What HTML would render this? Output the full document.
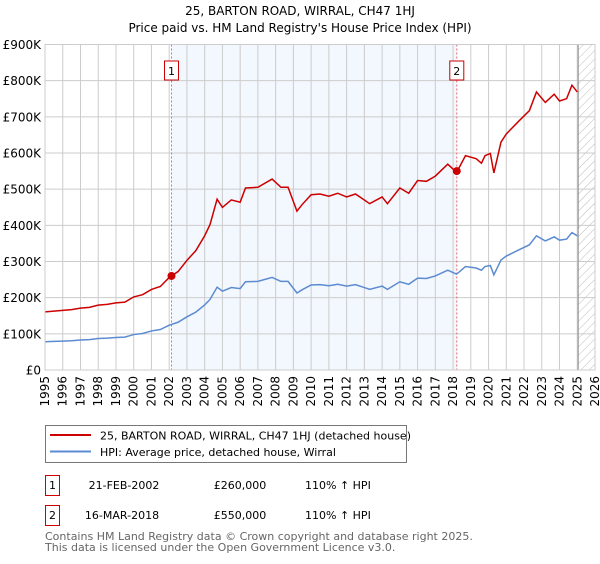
<!DOCTYPE html>
<html><head><meta charset="utf-8"><style>
body{margin:0;background:#fff;font-family:"DejaVu Sans","Liberation Sans",sans-serif;}
svg text{font-family:"DejaVu Sans","Liberation Sans",sans-serif;}
</style></head><body>
<svg id="chart" width="600" height="560" xmlns="http://www.w3.org/2000/svg">
<defs><pattern id="hatch" width="6" height="6" patternUnits="userSpaceOnUse" patternTransform="rotate(45)"><line x1="0" y1="0" x2="0" y2="6" stroke="#bbb" stroke-width="1"/></pattern></defs>
<text x="300" y="15" text-anchor="middle" font-size="12">25, BARTON ROAD, WIRRAL, CH47 1HJ</text>
<text x="300" y="32" text-anchor="middle" font-size="12">Price paid vs. HM Land Registry's House Price Index (HPI)</text>
<g id="plot"></g>
<rect x="45.5" y="425.5" width="361" height="37" fill="#fff" stroke="#777"/>
<line x1="50" y1="435" x2="91" y2="435" stroke="#cc0000" stroke-width="2"/>
<text x="100" y="439.5" font-size="11">25, BARTON ROAD, WIRRAL, CH47 1HJ (detached house)</text>
<line x1="50" y1="451.5" x2="91" y2="451.5" stroke="#5b8bd0" stroke-width="2"/>
<text x="100" y="456" font-size="11">HPI: Average price, detached house, Wirral</text>
<g font-size="11">
<rect x="45.5" y="475.5" width="14" height="20" fill="#fff" stroke="#cc0000"/>
<text x="52.5" y="489" text-anchor="middle">1</text>
<text x="124" y="489" text-anchor="middle">21-FEB-2002</text>
<text x="240" y="489" text-anchor="middle">£260,000</text>
<text x="305" y="489">110% ↑ HPI</text></g>
<g font-size="11">
<rect x="45.5" y="505.5" width="14" height="20" fill="#fff" stroke="#cc0000"/>
<text x="52.5" y="519" text-anchor="middle">2</text>
<text x="122" y="519" text-anchor="middle">16-MAR-2018</text>
<text x="240" y="519" text-anchor="middle">£550,000</text>
<text x="305" y="519">110% ↑ HPI</text></g>
<text x="45" y="540" font-size="11" fill="#666">Contains HM Land Registry data © Crown copyright and database right 2025.</text>
<text x="45" y="551" font-size="11" fill="#666">This data is licensed under the Open Government Licence v3.0.</text>
</svg>
<script>
const hpiYears=[1995,1995.5,1996,1996.5,1997,1997.5,1998,1998.5,1999,1999.5,2000,2000.5,2001,2001.5,2002,2002.5,2003,2003.5,2004,2004.3,2004.7,2005,2005.5,2006,2006.3,2007,2007.8,2008.3,2008.7,2009.2,2009.5,2010,2010.5,2011,2011.5,2012,2012.5,2013,2013.3,2014,2014.3,2015,2015.5,2016,2016.5,2017,2017.7,2018.2,2018.7,2019.3,2019.6,2019.8,2020.1,2020.3,2020.7,2021,2021.7,2022.3,2022.7,2023.2,2023.7,2024,2024.4,2024.7,2025];
const hpiValues=[78,79,80,81,83,84,87,88,90,91,98,101,108,112,124,132,147,160,180,195,229,218,228,225,244,245,256,245,245,213,222,235,236,233,237,232,236,228,223,232,223,244,237,254,253,260,276,265,286,282,276,286,289,263,304,315,332,346,371,357,368,359,362,380,371];
const saleDates=[2002.13,2018.21];
const salePrices=[260,550];
const yTicks=[0,100,200,300,400,500,600,700,800,900];
const yLabels=["£0","£100K","£200K","£300K","£400K","£500K","£600K","£700K","£800K","£900K"];
const xTicks=[1995,1996,1997,1998,1999,2000,2001,2002,2003,2004,2005,2006,2007,2008,2009,2010,2011,2012,2013,2014,2015,2016,2017,2018,2019,2020,2021,2022,2023,2024,2025,2026];
const X0=45,X1=595,Y0=370,Y1=44.5,XMIN=1995,XMAX=2026,YMAX=900,DATA_END=2025.05;
const sx=y=>X0+(y-XMIN)/(XMAX-XMIN)*(X1-X0);
const sy=v=>Y0-v/YMAX*(Y0-Y1);
const NS="http://www.w3.org/2000/svg";
const g=document.getElementById('plot');
function mk(t,a,p){const e=document.createElementNS(NS,t);for(const k in a)e.setAttribute(k,a[k]);(p||g).appendChild(e);return e;}
function hpiAt(t){for(let i=1;i<hpiYears.length;i++){if(t<=hpiYears[i]){const f=(t-hpiYears[i-1])/(hpiYears[i]-hpiYears[i-1]);return hpiValues[i-1]+f*(hpiValues[i]-hpiValues[i-1]);}}return hpiValues[hpiValues.length-1];}
const shade=mk('rect',{x:sx(saleDates[0]),y:Y1,width:sx(saleDates[1])-sx(saleDates[0]),height:Y0-Y1,fill:'#eef3fd',opacity:0.7});


const hat=mk('rect',{x:sx(DATA_END),y:Y1,width:X1-sx(DATA_END),height:Y0-Y1,fill:'url(#hatch)'});


yTicks.forEach((v,i)=>{
 const l=mk('line',{x1:X0,x2:X1,y1:sy(v),y2:sy(v),stroke:'#ccc','stroke-width':1});
 
 
 const t=mk('text',{x:X0-4,y:sy(v)+4.5,'text-anchor':'end','font-size':12});
 
 
 t.textContent=yLabels[i];
});
xTicks.forEach(yr=>{
 const l=mk('line',{x1:sx(yr),x2:sx(yr),y1:Y1,y2:Y0,stroke:'#ccc','stroke-width':1});
 
 
 const t=mk('text',{x:0,y:0,'text-anchor':'end','font-size':12,transform:`translate(${sx(yr)+4},${Y0+6}) rotate(-90)`});
 
 
 t.textContent=yr;
});
const dl=mk('line',{x1:sx(DATA_END),x2:sx(DATA_END),y1:Y1,y2:Y0,stroke:'#888','stroke-width':1});


saleDates.forEach((d,i)=>{
 const l=mk('line',{x1:sx(d),x2:sx(d),y1:Y1,y2:Y0,stroke:'#e86a6a','stroke-width':1,'stroke-dasharray':'2,2'});
 
 
 const b=mk('rect',{x:sx(d)-7,y:61,width:14,height:19,fill:'#fff',stroke:'#cc0000'});
 
 
 const t=mk('text',{x:sx(d),y:75,'text-anchor':'middle','font-size':11});
 
 
 t.textContent=String(i+1);
});
const hp=mk('polyline',{points:hpiYears.map((y,i)=>sx(y)+','+sy(hpiValues[i])).join(' '),fill:'none',stroke:'#5b8bd0','stroke-width':1.5});


const pts=hpiYears.map((y,i)=>{const k=y<saleDates[1]?salePrices[0]/hpiAt(saleDates[0]):salePrices[1]/hpiAt(saleDates[1]);return sx(y)+','+sy(hpiValues[i]*k);});
const pp=mk('polyline',{points:pts.join(' '),fill:'none',stroke:'#cc0000','stroke-width':1.5});


saleDates.forEach((d,i)=>{
 const c=mk('circle',{cx:sx(d),cy:sy(salePrices[i]),r:4,fill:'#cc0000'});
 
 
});
const fr=mk('rect',{x:X0,y:Y1,width:X1-X0,height:Y0-Y1,fill:'none',stroke:'#ccc'});


</script>
</body></html>
